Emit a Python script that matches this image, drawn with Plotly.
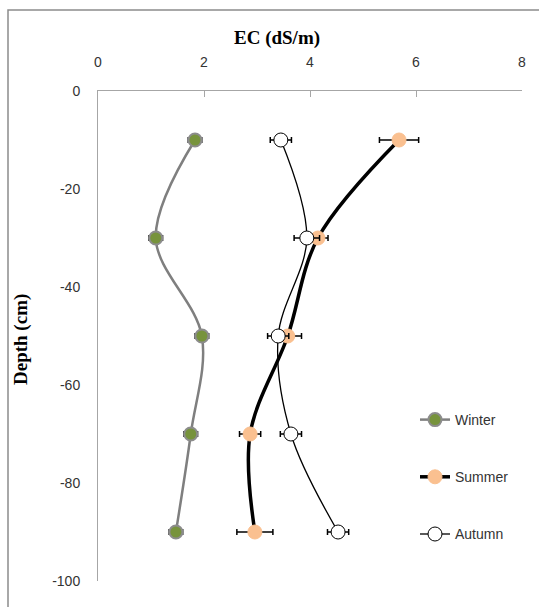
import plotly.graph_objects as go

depth = [-10, -30, -50, -70, -90]
winter = [1.83, 1.09, 1.96, 1.75, 1.47]
winter_err = [0.13, 0.13, 0.13, 0.13, 0.13]
summer = [5.68, 4.15, 3.58, 2.87, 2.96]
summer_err = [0.37, 0.19, 0.26, 0.2, 0.34]
autumn = [3.45, 3.94, 3.40, 3.64, 4.53]
autumn_err = [0.2, 0.24, 0.2, 0.2, 0.2]

x_ticks = [0, 2, 4, 6, 8]
y_ticks = [0, -20, -40, -60, -80, -100]
y_ticktext = ["0", "-20", "-40", "-60", "-80", "-100"]

W, H = 539, 607
ml, mr, mt, mb = 98, 17, 91, 26
pw, ph = W - ml - mr, H - mt - mb

def px2x(px):
    return (px - ml) / pw

def py2y(py):
    return (H - mb - py) / ph

fig = go.Figure()

fig.add_trace(go.Scatter(
    x=winter, y=depth, name="Winter", mode="lines+markers",
    line=dict(color="#7F7F7F", width=2.5, shape="spline", smoothing=1),
    marker=dict(size=13, color="#77933C", line=dict(color="#8C8C8C", width=2)),
    error_x=dict(type="data", array=winter_err, color="#333333", thickness=1.5, width=3),
    legendgroup="w",
))
fig.add_trace(go.Scatter(
    x=summer, y=depth, name="Summer", mode="lines+markers",
    line=dict(color="#000000", width=3.5, shape="spline", smoothing=1),
    marker=dict(size=14, color="#FAC090", line=dict(color="#FAC090", width=1)),
    error_x=dict(type="data", array=summer_err, color="#000000", thickness=1.5, width=3),
    legendgroup="s",
))
fig.add_trace(go.Scatter(
    x=autumn, y=depth, name="Autumn", mode="lines+markers",
    line=dict(color="#000000", width=1.3, shape="spline", smoothing=1),
    marker=dict(size=14, color="#FFFFFF", line=dict(color="#000000", width=1)),
    error_x=dict(type="data", array=autumn_err, color="#000000", thickness=1.5, width=3),
    legendgroup="a",
))

fig.update_layout(
    width=W, height=H,
    margin=dict(l=ml, r=mr, t=mt, b=mb),
    paper_bgcolor="white", plot_bgcolor="white",
    font=dict(family="Liberation Sans, Arial", size=14, color="#333333"),
    xaxis=dict(
        side="top", range=[0, 8], tickvals=x_ticks,
        showline=True, linecolor="#A6A6A6", linewidth=1,
        showgrid=False, zeroline=False,
        ticks="inside", ticklen=6, tickcolor="#A6A6A6",
        ticklabelstandoff=17,
        tickfont=dict(size=14, color="#333333"),
    ),
    yaxis=dict(
        range=[-100, 0], tickvals=y_ticks, ticktext=y_ticktext,
        showline=True, linecolor="#A6A6A6", linewidth=1,
        showgrid=False, zeroline=False,
        ticks="", ticklabelstandoff=14,
        tickfont=dict(size=14, color="#333333"),
    ),
    showlegend=True,
    legend=dict(
        x=px2x(415), y=py2y(404), xanchor="left", yanchor="top",
        bgcolor="rgba(0,0,0,0)", font=dict(size=14, color="#333333"),
        tracegroupgap=36, itemwidth=30,
    ),
    annotations=[
        dict(text="<b>EC (dS/m)</b>", x=px2x(277), y=py2y(38), xref="paper", yref="paper",
             xanchor="center", yanchor="middle", showarrow=False,
             font=dict(family="Liberation Serif, Times New Roman", size=19, color="#000000")),
        dict(text="<b>Depth (cm)</b>", x=px2x(21), y=py2y(340), xref="paper", yref="paper",
             xanchor="center", yanchor="middle", showarrow=False, textangle=-90,
             font=dict(family="Liberation Serif, Times New Roman", size=19, color="#000000")),
    ],
    shapes=[
        dict(type="rect", xref="paper", yref="paper",
             x0=px2x(8), x1=px2x(560), y0=py2y(630), y1=py2y(10),
             line=dict(color="#8C8C8C", width=1.5), fillcolor="rgba(0,0,0,0)", layer="below"),
    ],
)

fig.write_html("out.html")
